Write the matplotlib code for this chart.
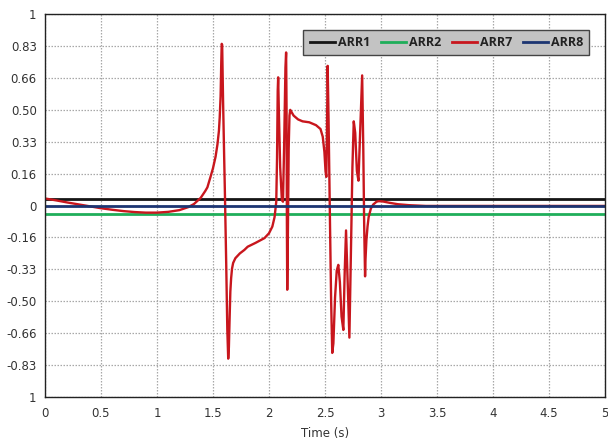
import matplotlib
matplotlib.use("Agg")
import matplotlib.pyplot as plt

# ---- data ----
time_span = [0.0, 5.0]
arr1_vals = [0.034, 0.034]
arr2_vals = [-0.044, -0.044]
arr8_vals = [0.0, 0.0]

arr7_t = [0.0, 0.1, 0.2, 0.3, 0.4, 0.5, 0.6, 0.7, 0.8, 0.9, 1.0, 1.1, 1.2, 1.28, 1.33,
          1.39, 1.43, 1.45, 1.478, 1.50, 1.523, 1.54, 1.553, 1.56, 1.568, 1.574, 1.578,
          1.582, 1.59, 1.600, 1.607, 1.618, 1.628, 1.636, 1.642, 1.648, 1.655, 1.662, 1.67,
          1.68, 1.70, 1.74, 1.78, 1.81, 1.88, 1.96, 2.00, 2.03,
          2.05, 2.065, 2.072, 2.078, 2.082, 2.088, 2.10, 2.115, 2.125, 2.135, 2.147, 2.153,
          2.157, 2.16, 2.163, 2.168, 2.176, 2.183, 2.19, 2.20, 2.22, 2.26, 2.30, 2.36, 2.42,
          2.46, 2.48, 2.495, 2.505, 2.512, 2.518, 2.524, 2.532, 2.545, 2.555, 2.565, 2.575,
          2.59, 2.605, 2.619, 2.633, 2.648, 2.664, 2.676, 2.688, 2.700, 2.718, 2.73, 2.745,
          2.757, 2.77, 2.785, 2.799, 2.812, 2.832, 2.842, 2.85, 2.858, 2.862, 2.87, 2.88,
          2.89, 2.91, 2.93, 2.96, 2.98, 3.02, 3.08, 3.15, 3.25, 3.4, 5.0]
arr7_v = [0.037, 0.027, 0.016, 0.006, -0.004, -0.014, -0.022, -0.029, -0.034, -0.037, -0.037,
          -0.033, -0.024, -0.008, 0.008, 0.04, 0.075, 0.095, 0.15, 0.195, 0.255, 0.32, 0.39,
          0.46, 0.57, 0.75, 0.845, 0.84, 0.55, 0.25, 0.05, -0.3, -0.65, -0.80, -0.74, -0.60,
          -0.45, -0.38, -0.33, -0.30, -0.275, -0.25, -0.232, -0.215, -0.195, -0.17, -0.145,
          -0.11, -0.06, 0.02, 0.25, 0.60, 0.67, 0.50, 0.20, 0.03, 0.02, 0.30, 0.72, 0.80,
          0.5, -0.1, -0.44, -0.2, 0.3, 0.47, 0.50, 0.49, 0.47, 0.45, 0.44, 0.435, 0.42,
          0.40, 0.36, 0.28, 0.18, 0.15, 0.40, 0.73, 0.45, -0.1, -0.5, -0.77, -0.72, -0.48,
          -0.34, -0.31, -0.40, -0.58, -0.65, -0.35, -0.13, -0.35, -0.69, -0.3, 0.2, 0.44,
          0.38, 0.18, 0.13, 0.35, 0.68, 0.3, -0.1, -0.37, -0.28, -0.18, -0.11, -0.06,
          -0.015, 0.005, 0.02, 0.023, 0.021, 0.014, 0.007, 0.002, -0.002, -0.002]

xtick_vals = [0, 0.5, 1, 1.5, 2, 2.5, 3, 3.5, 4, 4.5, 5]
xtick_labels = ["0", "0.5", "1", "1.5", "2", "2.5", "3", "3.5", "4", "4.5", "5"]
ytick_vals = [1, 5/6, 4/6, 3/6, 2/6, 1/6, 0, -1/6, -2/6, -3/6, -4/6, -5/6, -1]
ytick_labels = ["1", "0.83", "0.66", "0.50", "0.33", "0.16", "0",
                "-0.16", "-0.33", "-0.50", "-0.66", "-0.83", "1"]

# ---- figure ----
fig = plt.figure(figsize=(6.08, 4.43), dpi=100)
ax = fig.add_axes([0.074, 0.104, 0.921, 0.864])

ax.plot(time_span, arr1_vals, color="#151515", lw=2.0, label="ARR1")
ax.plot(time_span, arr2_vals, color="#1fae5a", lw=2.0, label="ARR2")
ax.plot(arr7_t, arr7_v, color="#c8161d", lw=1.7, label="ARR7")
ax.plot(time_span, arr8_vals, color="#1c3572", lw=2.0, label="ARR8")

ax.set_xlim(0, 5)
ax.set_ylim(-1, 1)
ax.set_xticks(xtick_vals)
ax.set_xticklabels(xtick_labels)
ax.set_yticks(ytick_vals)
ax.set_yticklabels(ytick_labels)
ax.tick_params(length=0, labelsize=8.5, colors="#333333", pad=6)
ax.tick_params(axis="x", pad=7)
ax.grid(True, linestyle=(0, (1.2, 1.2)), color="#a8a8a8", linewidth=0.9)
for s in ax.spines.values():
    s.set_color("#222222")
    s.set_linewidth(1.0)

ax.set_xlabel("Time (s)", fontsize=8.5, color="#333333", labelpad=5)

leg = ax.legend(ncol=4, loc="upper right", bbox_to_anchor=(0.983, 0.975),
                frameon=True, fancybox=False, handlelength=2.0, handletextpad=0.25,
                columnspacing=0.85, borderpad=0.5,
                prop={"family": "Open Sans", "weight": "bold", "size": 9})
leg.get_frame().set_facecolor("#c3c3c3")
leg.get_frame().set_edgecolor("#444444")
leg.get_frame().set_alpha(1.0)
leg.get_frame().set_linewidth(1.0)
for line in leg.get_lines():
    line.set_linewidth(2.0)
for t in leg.get_texts():
    t.set_color("#222222")

fig.savefig("out.png", dpi=100)
